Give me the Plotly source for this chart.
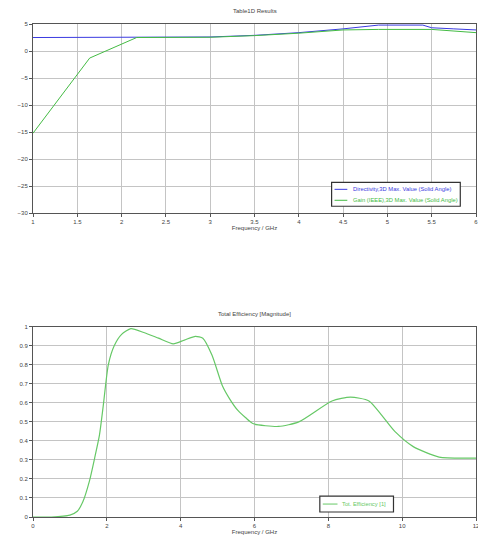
import plotly.graph_objects as go

# ---- Top chart data (Farfield 1D results) ----
dir_freq = [1, 1.5, 2, 2.5, 3, 3.5, 4, 4.5, 4.7, 4.9, 5.4, 5.5, 5.75, 6]
dir_val = [2.5, 2.5, 2.5, 2.5, 2.6, 2.9, 3.4, 4.1, 4.5, 4.8, 4.8, 4.3, 4.1, 3.9]
gain_freq = [1, 1.64, 2.17, 2.5, 3, 3.5, 4, 4.5, 4.9, 5.5, 6]
gain_val = [-15.2, -1.3, 2.5, 2.5, 2.55, 2.85, 3.3, 3.9, 4.0, 4.0, 3.4]
top_xticks = [1, 1.5, 2, 2.5, 3, 3.5, 4, 4.5, 5, 5.5, 6]
top_yticks = [5, 0, -5, -10, -15, -20, -25, -30]

# ---- Bottom chart data (Total efficiency) ----
eff_freq = [0, 0.5, 1.0, 1.2, 1.35, 1.53, 1.67, 1.8, 1.9, 2.04, 2.2, 2.4, 2.65, 3.0,
            3.4, 3.8, 4.1, 4.4, 4.6, 4.85, 5.13, 5.33, 5.55, 5.77, 5.97, 6.65, 7.2,
            8.1, 8.6, 9.1, 9.8, 10.3, 11, 12]
eff_val = [0, 0.0, 0.01, 0.03, 0.08, 0.19, 0.31, 0.43, 0.58, 0.8, 0.9, 0.96, 0.99, 0.97,
           0.94, 0.91, 0.93, 0.95, 0.94, 0.85, 0.69, 0.62, 0.56, 0.52, 0.49, 0.476, 0.50,
           0.61, 0.63, 0.61, 0.45, 0.37, 0.315, 0.31]
bot_xticks = [0, 2, 4, 6, 8, 10, 12]
bot_yticks = [0, 0.1, 0.2, 0.3, 0.4, 0.5, 0.6, 0.7, 0.8, 0.9, 1]

names = ["Directivity,3D Max. Value (Solid Angle)",
         "Gain (IEEE),3D Max. Value (Solid Angle)",
         "Tot. Efficiency [1]"]

BLUE = "#3a3ae0"
GREEN = "#44bb44"
GREEN2 = "#66c866"
FAM = "Liberation Sans, Arial, sans-serif"
FONT = dict(family=FAM, size=6, color="#444444")

fig = go.Figure()
fig.add_trace(go.Scatter(x=dir_freq, y=dir_val, mode="lines", line=dict(color=BLUE, width=1),
                         name=names[0], xaxis="x", yaxis="y", showlegend=False))
fig.add_trace(go.Scatter(x=gain_freq, y=gain_val, mode="lines", line=dict(color=GREEN, width=1),
                         name=names[1], xaxis="x", yaxis="y", showlegend=False))
fig.add_trace(go.Scatter(x=eff_freq, y=eff_val, mode="lines",
                         line=dict(color=GREEN2, width=1.2, shape="spline", smoothing=0.6),
                         name=names[2], xaxis="x2", yaxis="y2", showlegend=False))

axis_common = dict(showgrid=True, gridcolor="#c4c4c4", gridwidth=1, showline=True,
                   linecolor="#555555", linewidth=1, mirror=True, ticks="outside",
                   ticklen=3, tickcolor="#555555", zeroline=False, tickfont=FONT,
                   automargin=False, ticklabeloverflow="allow")

# Paper fractions from reference pixel positions (reference plot area x 33..484, y 24..519)
def px(x):
    return (x - 33) / 451.0

def py(y):
    return (519 - y) / 495.0

shapes = []
annotations = []

def legend_box(x0, x1, y0, y1):
    shapes.append(dict(type="rect", xref="paper", yref="paper", x0=px(x0), x1=px(x1),
                       y0=py(y1), y1=py(y0), line=dict(color="#333333", width=1.2),
                       fillcolor="white", layer="above"))

def legend_item(lx0, lx1, ly, tx, text, color):
    shapes.append(dict(type="line", xref="paper", yref="paper", x0=px(lx0), x1=px(lx1),
                       y0=py(ly), y1=py(ly), line=dict(color=color, width=1), layer="above"))
    annotations.append(dict(text=text, x=px(tx), y=py(ly), xref="paper", yref="paper",
                            xanchor="left", yanchor="middle", showarrow=False,
                            font=dict(family=FAM, size=5.8, color=color)))

legend_box(337, 468, 183, 207)
legend_item(340, 353, 190, 357, names[0], BLUE)
legend_item(340, 353, 201, 357, names[1], GREEN)
legend_box(325, 400, 498, 514)
legend_item(328, 343, 506, 346, names[2], GREEN2)

annotations += [
    dict(text="Table1D Results", x=0.5, y=1.0, xref="paper", yref="paper",
         xanchor="center", yanchor="bottom", yshift=8, showarrow=False, font=FONT),
    dict(text="Total Efficiency [Magnitude]", x=0.5, y=py(328), xref="paper", yref="paper",
         xanchor="center", yanchor="bottom", yshift=8, showarrow=False, font=FONT),
]

fig.update_layout(
    width=470, height=528,
    margin=dict(l=25, r=2, t=16, b=19),
    paper_bgcolor="white", plot_bgcolor="white",
    font=FONT,
    showlegend=False,
    xaxis=dict(domain=[0, 1], anchor="y", range=[1, 6], tickvals=top_xticks,
               title=dict(text="Frequency / GHz", font=FONT, standoff=1), **axis_common),
    yaxis=dict(domain=[py(214), 1.0], anchor="x", range=[-30, 5], tickvals=top_yticks,
               **axis_common),
    xaxis2=dict(domain=[0, 1], anchor="y2", range=[0, 12], tickvals=bot_xticks,
                title=dict(text="Frequency / GHz", font=FONT, standoff=1), **axis_common),
    yaxis2=dict(domain=[0, py(328)], anchor="x2", range=[0, 1], tickvals=bot_yticks,
                **axis_common),
    shapes=shapes,
    annotations=annotations,
)
fig.write_html("out.html")
